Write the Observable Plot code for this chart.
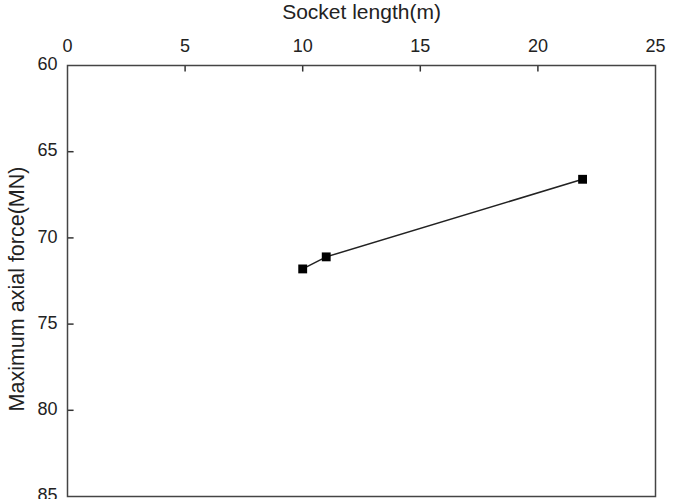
<!DOCTYPE html>
<html>
<head>
<meta charset="utf-8">
<script src="https://cdn.jsdelivr.net/npm/d3@7"></script>
<script src="https://cdn.jsdelivr.net/npm/@observablehq/plot@0.6"></script>
<style>
  html, body { margin: 0; padding: 0; background: #fff; }
  #chart svg { overflow: visible; }
</style>
</head>
<body>
<div id="chart"></div>
<script>
const socketLength = [10, 11, 21.9];
const maxAxialForce = [71.8, 71.1, 66.6];
const xTicks = [0, 5, 10, 15, 20, 25];
const yTicks = [60, 65, 70, 75, 80, 85];
const xTitle = "Socket length(m)";
const yTitle = "Maximum axial force(MN)";

const data = socketLength.map((x, i) => ({x, y: maxAxialForce[i]}));
const innerX = xTicks.slice(1, -1);
const innerY = yTicks.slice(1, -1);

const chart = Plot.plot({
  width: 677,
  height: 499,
  marginLeft: 67,
  marginRight: 22,
  marginTop: 65,
  marginBottom: 3,
  style: {fontFamily: "Liberation Sans, Arial, sans-serif", color: "#222", background: "#fff"},
  x: {domain: [0, 25], axis: null},
  y: {domain: [60, 85], reverse: true, axis: null},
  marks: [
    Plot.text(xTicks, {x: d => d, frameAnchor: "top", lineAnchor: "middle", dy: -19.5, text: d => String(d), fontSize: 18, fill: "#222"}),
    Plot.text(yTicks, {y: d => d, frameAnchor: "left", textAnchor: "end", lineAnchor: "middle", dx: -10, dy: -1, text: d => String(d), fontSize: 18, fill: "#222"}),
    Plot.ruleX(innerX, {x: d => d, y1: 60, y2: 60.38, stroke: "#333", strokeWidth: 1.5}),
    Plot.ruleY(innerY, {y: d => d, x1: 0, x2: 0.28, stroke: "#333", strokeWidth: 1.5}),
    Plot.frame({stroke: "#444", strokeWidth: 1.5}),
    Plot.line(data, {x: "x", y: "y", stroke: "#222", strokeWidth: 1.5}),
    Plot.dot(data, {x: "x", y: "y", symbol: "square", r: 5, fill: "#000", stroke: "none"}),
    Plot.text([xTitle], {frameAnchor: "top", dy: -61, text: d => d, fontSize: 21, fill: "#222"}),
    Plot.text([yTitle], {frameAnchor: "left", dx: -50, dy: 8, rotate: -90, textAnchor: "middle", text: d => d, fontSize: 21.5, fill: "#222"})
  ]
});
document.getElementById("chart").appendChild(chart);
</script>
</body>
</html>
